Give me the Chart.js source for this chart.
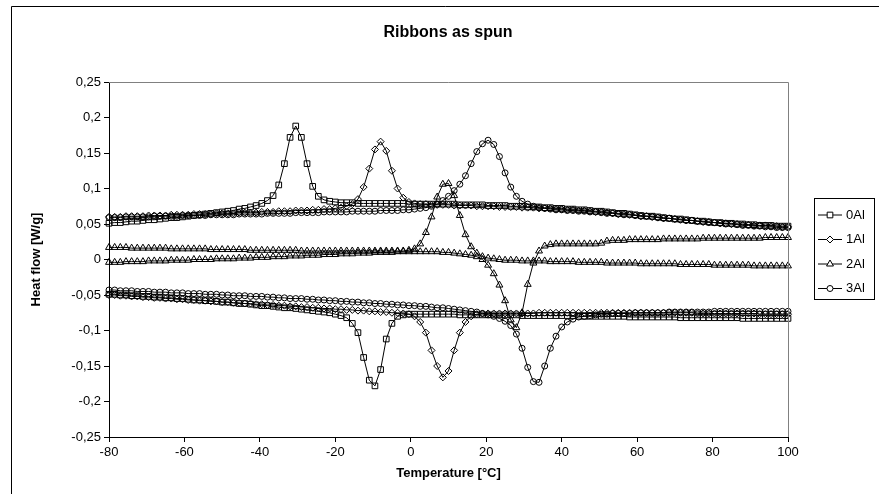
<!DOCTYPE html>
<html>
<head>
<meta charset="utf-8">
<script src="https://cdn.jsdelivr.net/npm/chart.js@4.4.1/dist/chart.umd.min.js"></script>
<style>
html, body { margin: 0; padding: 0; background: #fff; }
#wrap { width: 879px; height: 494px; position: relative; }
</style>
</head>
<body>
<div id="wrap"><canvas id="myChart"></canvas></div>
<script>
// temperature grid [°C], shared by all curves
var temps = [-80,-78.5,-77,-75.5,-74,-72.5,-71,-69.5,-68,-66.5,
  -65,-63.5,-62,-60.5,-59,-57.5,-56,-54.5,-53,-51.5,
  -50,-48.5,-47,-45.5,-44,-42.5,-41,-39.5,-38,-36.5,
  -35,-33.5,-32,-30.5,-29,-27.5,-26,-24.5,-23,-21.5,
  -20,-18.5,-17,-15.5,-14,-12.5,-11,-9.5,-8,-6.5,
  -5,-3.5,-2,-0.5,1,2.5,4,5.5,7,8.5,
  10,11.5,13,14.5,16,17.5,19,20.5,22,23.5,
  25,26.5,28,29.5,31,32.5,34,35.5,37,38.5,
  40,41.5,43,44.5,46,47.5,49,50.5,52,53.5,
  55,56.5,58,59.5,61,62.5,64,65.5,67,68.5,
  70,71.5,73,74.5,76,77.5,79,80.5,82,83.5,
  85,86.5,88,89.5,91,92.5,94,95.5,97,98.5,
  100];

// heat flow [W/g]
var heat0Al = [0.051,0.052,0.052,0.053,0.054,0.054,0.055,0.056,0.056,0.057,
  0.058,0.059,0.059,0.060,0.061,0.062,0.063,0.064,0.065,0.066,
  0.067,0.068,0.069,0.071,0.072,0.074,0.076,0.079,0.083,0.090,
  0.105,0.135,0.172,0.188,0.172,0.135,0.103,0.089,0.084,0.082,
  0.081,0.080,0.080,0.080,0.079,0.079,0.079,0.079,0.079,0.079,
  0.079,0.079,0.079,0.078,0.078,0.078,0.078,0.078,0.078,0.078,
  0.078,0.078,0.077,0.077,0.077,0.077,0.077,0.076,0.076,0.076,
  0.076,0.075,0.075,0.075,0.074,0.074,0.074,0.073,0.073,0.072,
  0.072,0.071,0.071,0.070,0.070,0.069,0.068,0.068,0.067,0.066,
  0.065,0.065,0.064,0.063,0.062,0.061,0.061,0.060,0.059,0.058,
  0.057,0.057,0.056,0.055,0.054,0.054,0.053,0.052,0.052,0.051,
  0.051,0.050,0.050,0.049,0.049,0.048,0.048,0.048,0.047,0.047,0.047];
var cool0Al = [-0.049,-0.049,-0.050,-0.050,-0.051,-0.051,-0.052,-0.052,-0.053,-0.053,
  -0.054,-0.054,-0.055,-0.055,-0.056,-0.057,-0.057,-0.058,-0.058,-0.059,
  -0.060,-0.060,-0.061,-0.062,-0.062,-0.063,-0.064,-0.065,-0.065,-0.066,
  -0.067,-0.068,-0.068,-0.069,-0.070,-0.071,-0.072,-0.073,-0.074,-0.075,
  -0.077,-0.079,-0.082,-0.090,-0.103,-0.138,-0.170,-0.178,-0.155,-0.112,
  -0.090,-0.080,-0.078,-0.077,-0.077,-0.077,-0.077,-0.077,-0.077,-0.077,
  -0.077,-0.077,-0.078,-0.078,-0.078,-0.078,-0.078,-0.078,-0.078,-0.078,
  -0.078,-0.078,-0.078,-0.079,-0.079,-0.079,-0.079,-0.079,-0.079,-0.079,
  -0.079,-0.079,-0.079,-0.080,-0.080,-0.080,-0.080,-0.080,-0.080,-0.080,
  -0.080,-0.080,-0.081,-0.081,-0.081,-0.081,-0.081,-0.081,-0.081,-0.081,
  -0.081,-0.082,-0.082,-0.082,-0.082,-0.082,-0.082,-0.082,-0.082,-0.082,
  -0.082,-0.082,-0.083,-0.083,-0.083,-0.083,-0.083,-0.083,-0.083,-0.083,-0.083];
var heat1Al = [0.060,0.060,0.060,0.061,0.061,0.061,0.061,0.062,0.062,0.062,
  0.062,0.063,0.063,0.063,0.063,0.064,0.064,0.064,0.064,0.065,
  0.065,0.065,0.065,0.066,0.066,0.066,0.066,0.067,0.067,0.067,
  0.068,0.068,0.068,0.069,0.069,0.069,0.070,0.070,0.071,0.071,
  0.072,0.073,0.075,0.078,0.085,0.102,0.128,0.155,0.166,0.153,
  0.125,0.100,0.087,0.081,0.079,0.078,0.078,0.077,0.077,0.077,
  0.077,0.076,0.076,0.076,0.076,0.075,0.075,0.075,0.075,0.074,
  0.074,0.074,0.074,0.073,0.073,0.073,0.072,0.072,0.072,0.071,
  0.071,0.070,0.070,0.069,0.069,0.068,0.067,0.067,0.066,0.065,
  0.064,0.064,0.063,0.062,0.061,0.061,0.060,0.059,0.058,0.058,
  0.057,0.056,0.055,0.055,0.054,0.053,0.053,0.052,0.051,0.051,
  0.050,0.050,0.049,0.049,0.048,0.048,0.048,0.047,0.047,0.046,0.046];
var cool1Al = [-0.050,-0.050,-0.051,-0.051,-0.052,-0.052,-0.053,-0.053,-0.054,-0.054,
  -0.055,-0.055,-0.056,-0.056,-0.057,-0.057,-0.058,-0.058,-0.059,-0.059,
  -0.060,-0.060,-0.061,-0.061,-0.062,-0.062,-0.063,-0.063,-0.064,-0.064,
  -0.065,-0.065,-0.066,-0.066,-0.067,-0.067,-0.068,-0.068,-0.069,-0.069,
  -0.070,-0.070,-0.071,-0.071,-0.072,-0.072,-0.073,-0.073,-0.074,-0.074,
  -0.075,-0.075,-0.076,-0.077,-0.080,-0.088,-0.103,-0.128,-0.150,-0.166,
  -0.157,-0.128,-0.103,-0.088,-0.080,-0.077,-0.076,-0.076,-0.076,-0.076,
  -0.076,-0.076,-0.076,-0.076,-0.076,-0.076,-0.075,-0.075,-0.075,-0.075,
  -0.075,-0.075,-0.075,-0.075,-0.075,-0.075,-0.075,-0.075,-0.075,-0.075,
  -0.075,-0.075,-0.075,-0.075,-0.075,-0.075,-0.075,-0.075,-0.075,-0.075,
  -0.075,-0.075,-0.075,-0.075,-0.076,-0.076,-0.076,-0.076,-0.076,-0.076,
  -0.076,-0.076,-0.076,-0.076,-0.076,-0.077,-0.077,-0.077,-0.077,-0.077,-0.077];
var heat2Al = [0.017,0.017,0.017,0.017,0.016,0.016,0.016,0.016,0.016,0.016,
  0.016,0.015,0.015,0.015,0.015,0.015,0.015,0.015,0.014,0.014,
  0.014,0.014,0.014,0.014,0.014,0.013,0.013,0.013,0.013,0.013,
  0.013,0.013,0.013,0.013,0.012,0.012,0.012,0.012,0.012,0.012,
  0.012,0.012,0.012,0.012,0.012,0.012,0.012,0.012,0.012,0.012,
  0.012,0.012,0.012,0.013,0.015,0.022,0.038,0.060,0.088,0.106,
  0.107,0.090,0.062,0.035,0.018,0.009,0.004,0.002,0.001,0.000,
  -0.001,-0.001,-0.001,-0.002,-0.002,-0.002,-0.002,-0.002,-0.003,-0.003,
  -0.003,-0.003,-0.003,-0.004,-0.004,-0.004,-0.004,-0.004,-0.005,-0.005,
  -0.005,-0.005,-0.005,-0.005,-0.006,-0.006,-0.006,-0.006,-0.006,-0.006,
  -0.006,-0.007,-0.007,-0.007,-0.007,-0.007,-0.007,-0.008,-0.008,-0.008,
  -0.008,-0.008,-0.008,-0.008,-0.009,-0.009,-0.009,-0.009,-0.009,-0.009,-0.009];
var cool2Al = [-0.004,-0.004,-0.004,-0.003,-0.003,-0.003,-0.003,-0.002,-0.002,-0.002,
  -0.002,-0.001,-0.001,-0.001,-0.001,0.000,0.000,0.000,0.000,0.001,
  0.001,0.001,0.001,0.002,0.002,0.002,0.003,0.003,0.003,0.004,
  0.004,0.004,0.005,0.005,0.005,0.006,0.006,0.006,0.007,0.007,
  0.007,0.008,0.008,0.008,0.009,0.009,0.009,0.010,0.010,0.010,
  0.010,0.011,0.011,0.011,0.011,0.011,0.011,0.011,0.011,0.010,
  0.010,0.009,0.008,0.007,0.006,0.004,0.000,-0.008,-0.020,-0.036,
  -0.058,-0.085,-0.096,-0.075,-0.035,-0.005,0.012,0.019,0.021,0.022,
  0.022,0.022,0.022,0.022,0.022,0.022,0.022,0.023,0.026,0.027,
  0.027,0.027,0.028,0.028,0.028,0.028,0.028,0.028,0.029,0.029,
  0.029,0.029,0.029,0.029,0.029,0.030,0.030,0.030,0.030,0.030,
  0.030,0.030,0.030,0.030,0.030,0.030,0.031,0.031,0.031,0.031,0.031];
var heat3Al = [0.059,0.059,0.059,0.060,0.060,0.060,0.060,0.060,0.061,0.061,
  0.061,0.061,0.061,0.062,0.062,0.062,0.062,0.062,0.063,0.063,
  0.063,0.063,0.063,0.064,0.064,0.064,0.064,0.064,0.065,0.065,
  0.065,0.065,0.065,0.066,0.066,0.066,0.066,0.066,0.067,0.067,
  0.067,0.067,0.067,0.068,0.068,0.068,0.068,0.068,0.069,0.069,
  0.069,0.069,0.070,0.070,0.071,0.072,0.073,0.075,0.078,0.083,
  0.089,0.097,0.106,0.118,0.135,0.152,0.163,0.168,0.162,0.145,
  0.122,0.102,0.089,0.082,0.078,0.075,0.073,0.072,0.071,0.070,
  0.070,0.069,0.069,0.068,0.068,0.067,0.067,0.066,0.065,0.065,
  0.064,0.063,0.063,0.062,0.061,0.061,0.060,0.059,0.058,0.058,
  0.057,0.056,0.055,0.055,0.054,0.053,0.052,0.052,0.051,0.050,
  0.050,0.049,0.048,0.048,0.047,0.047,0.046,0.046,0.045,0.045,0.045];
var cool3Al = [-0.043,-0.043,-0.044,-0.044,-0.044,-0.045,-0.045,-0.045,-0.046,-0.046,
  -0.046,-0.047,-0.047,-0.047,-0.048,-0.048,-0.048,-0.049,-0.049,-0.049,
  -0.050,-0.050,-0.051,-0.051,-0.051,-0.052,-0.052,-0.052,-0.053,-0.053,
  -0.054,-0.054,-0.055,-0.055,-0.055,-0.056,-0.056,-0.057,-0.057,-0.058,
  -0.058,-0.059,-0.059,-0.060,-0.060,-0.061,-0.061,-0.062,-0.062,-0.063,
  -0.063,-0.064,-0.064,-0.065,-0.065,-0.066,-0.066,-0.067,-0.068,-0.068,
  -0.069,-0.070,-0.071,-0.072,-0.073,-0.074,-0.076,-0.078,-0.080,-0.083,
  -0.087,-0.093,-0.105,-0.125,-0.152,-0.172,-0.173,-0.150,-0.125,-0.108,
  -0.095,-0.088,-0.084,-0.081,-0.080,-0.079,-0.078,-0.077,-0.077,-0.076,
  -0.076,-0.076,-0.076,-0.075,-0.075,-0.075,-0.075,-0.075,-0.075,-0.074,
  -0.074,-0.074,-0.074,-0.074,-0.074,-0.074,-0.074,-0.073,-0.073,-0.073,
  -0.073,-0.073,-0.073,-0.073,-0.073,-0.073,-0.073,-0.073,-0.073,-0.073,-0.073];

var seriesNames = ['0Al', '1Al', '2Al', '3Al'];
var markerStyles = ['rect', 'rectRot', 'triangle', 'circle'];
var markerSizes = [4, 3.5, 4, 3];
var curves = [[heat0Al, cool0Al], [heat1Al, cool1Al], [heat2Al, cool2Al], [heat3Al, cool3Al]];

var FONT = '"Liberation Sans", Arial, sans-serif';

function points(values) {
  return values.map(function (v, i) { return { x: temps[i], y: v }; });
}

var datasets = [];
curves.forEach(function (pair, k) {
  pair.forEach(function (values) {
    datasets.push({
      label: seriesNames[k],
      data: points(values),
      borderColor: '#000',
      borderWidth: 1,
      pointStyle: markerStyles[k],
      pointRadius: markerSizes[k],
      pointBorderColor: '#000',
      pointBackgroundColor: 'rgba(255,255,255,0)',
      pointBorderWidth: 1,
      tension: 0,
      fill: false,
      clip: false
    });
  });
});

// Excel style frame, titles and legend box
var excelFrame = {
  id: 'excelFrame',
  afterDraw: function (chart) {
    var ctx = chart.ctx, a = chart.chartArea;
    ctx.save();
    ctx.lineWidth = 1;
    ctx.strokeStyle = '#000';
    ctx.beginPath();
    ctx.moveTo(11.5, 494); ctx.lineTo(11.5, 6.5); ctx.lineTo(879, 6.5);
    ctx.stroke();

    ctx.strokeStyle = '#808080';
    ctx.beginPath();
    ctx.moveTo(a.left, a.top + 0.5); ctx.lineTo(a.right + 0.5, a.top + 0.5); ctx.lineTo(a.right + 0.5, a.bottom);
    ctx.stroke();

    ctx.fillStyle = '#000';
    ctx.textAlign = 'center';
    ctx.textBaseline = 'middle';
    ctx.font = 'bold 16px ' + FONT;
    ctx.fillText('Ribbons as spun', 448, 33);
    ctx.font = 'bold 13px ' + FONT;
    ctx.fillText('Temperature [°C]', (a.left + a.right) / 2, 473);
    ctx.save();
    ctx.translate(36, (a.top + a.bottom) / 2);
    ctx.rotate(-Math.PI / 2);
    ctx.fillText('Heat flow [W/g]', 0, 0);
    ctx.restore();

    // legend
    var bx = 814.5, by = 198.5, bw = 60, bh = 101;
    ctx.strokeStyle = '#000';
    ctx.strokeRect(bx, by, bw, bh);
    ctx.font = '13px ' + FONT;
    ctx.textAlign = 'left';
    seriesNames.forEach(function (name, k) {
      var y = 215 + k * 24.5;
      ctx.beginPath();
      ctx.moveTo(818, y); ctx.lineTo(842, y);
      ctx.stroke();
      drawMarker(ctx, markerStyles[k], markerSizes[k], 830, y);
      ctx.fillText(name, 846, y);
    });
    ctx.restore();
  }
};

function drawMarker(ctx, style, r, x, y) {
  ctx.beginPath();
  if (style === 'rect') {
    var s = Math.SQRT1_2 * r;
    ctx.rect(x - s, y - s, 2 * s, 2 * s);
  } else if (style === 'rectRot') {
    ctx.moveTo(x - r, y); ctx.lineTo(x, y - r); ctx.lineTo(x + r, y); ctx.lineTo(x, y + r);
    ctx.closePath();
  } else if (style === 'triangle') {
    ctx.moveTo(x, y - r);
    ctx.lineTo(x + Math.sin(2 * Math.PI / 3) * r, y - Math.cos(2 * Math.PI / 3) * r);
    ctx.lineTo(x + Math.sin(4 * Math.PI / 3) * r, y - Math.cos(4 * Math.PI / 3) * r);
    ctx.closePath();
  } else {
    ctx.arc(x, y, r, 0, 2 * Math.PI);
  }
  ctx.fillStyle = '#fff';
  ctx.fill();
  ctx.stroke();
  ctx.fillStyle = '#000';
}

var ctx = document.getElementById('myChart').getContext('2d');
var chart = new Chart(ctx, {
  type: 'line',
  data: { datasets: datasets },
  options: {
    responsive: true,
    maintainAspectRatio: false,
    animation: false,
    layout: { padding: { left: 0, right: 91, top: 82, bottom: 0 } },
    plugins: { legend: { display: false }, title: { display: false }, tooltip: { enabled: false } },
    scales: {
      x: {
        type: 'linear',
        min: -80,
        max: 100,
        ticks: { stepSize: 20, color: '#000', font: { family: FONT, size: 13 }, padding: 3, maxRotation: 0 },
        grid: { drawOnChartArea: false, drawTicks: true, tickLength: 5, color: '#000' },
        border: { color: '#000', width: 1 },
        afterFit: function (scale) { scale.height = 57; }
      },
      y: {
        min: -0.25,
        max: 0.25,
        ticks: {
          stepSize: 0.05,
          color: '#000',
          font: { family: FONT, size: 13 },
          padding: 3,
          callback: function (v) {
            var r = Math.round(v * 100) / 100;
            return r === 0 ? '0' : String(r).replace('.', ',');
          }
        },
        grid: { drawOnChartArea: false, drawTicks: true, tickLength: 5, color: '#000' },
        border: { color: '#000', width: 1 },
        afterFit: function (scale) { scale.width = 109; }
      }
    }
  },
  plugins: [excelFrame]
});
</script>
</body>
</html>
